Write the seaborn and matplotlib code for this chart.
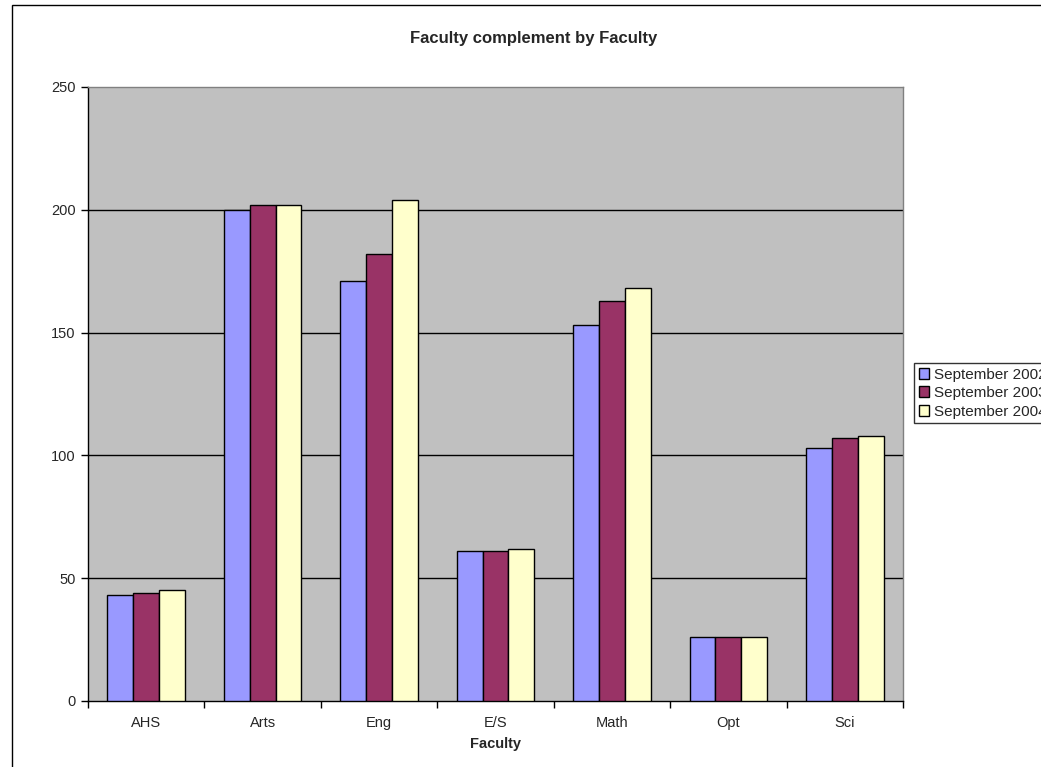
import matplotlib
matplotlib.use("Agg")
import matplotlib.pyplot as plt
import matplotlib.patches as mpatches
import seaborn as sns
import pandas as pd
import numpy as np

categories = ["AHS", "Arts", "Eng", "E/S", "Math", "Opt", "Sci"]
series_names = ["September 2002", "September 2003", "September 2004"]
sep_2002 = [43, 200, 171, 61, 153, 26, 103]
sep_2003 = [44, 202, 182, 61, 163, 26, 107]
sep_2004 = [45, 202, 204, 62, 168, 26, 108]
yticks = [0, 50, 100, 150, 200, 250]
colors = ["#9999FF", "#993366", "#FFFFCC"]

rows = []
for name, vals in zip(series_names, [sep_2002, sep_2003, sep_2004]):
    for c, v in zip(categories, vals):
        rows.append({"Faculty": c, "Series": name, "Value": v})
df = pd.DataFrame(rows)

sns.set_style("white")
plt.rcParams["font.family"] = ["Liberation Sans", "DejaVu Sans"]

W, H = 1041, 767
fig = plt.figure(figsize=(W / 100, H / 100), dpi=100)
ax = fig.add_axes([88 / W, 1 - 701 / H, (903 - 88) / W, (701 - 87) / H])
ax.set_facecolor("#C0C0C0")

sns.barplot(data=df, x="Faculty", y="Value", hue="Series", order=categories,
            hue_order=series_names, palette=colors, width=0.667,
            edgecolor="black", linewidth=1.0, saturation=1, ax=ax,
            legend=False, zorder=3)

ax.set_ylim(0, 250)
ax.set_xlim(-0.5, len(categories) - 0.5)
ax.set_yticks(yticks)
ax.set_yticklabels([str(t) for t in yticks], fontsize=10.5)
ax.tick_params(axis="y", direction="out", length=5, width=1, color="black", pad=4, left=True)
ax.set_xticks(range(len(categories)))
ax.set_xticklabels(categories, fontsize=10.5)
ax.tick_params(axis="x", which="major", length=0, pad=11)
ax.set_xticks(np.arange(-0.5, len(categories), 1.0), minor=True)
ax.tick_params(axis="x", which="minor", direction="out", length=5, width=1, color="black", bottom=True)

for y in yticks[1:-1]:
    ax.axhline(y, color="black", linewidth=1, zorder=1)

ax.set_xlabel("Faculty", fontsize=10.5, fontweight="bold", labelpad=5)
ax.set_ylabel("")

for s in ["left", "bottom"]:
    ax.spines[s].set_color("black")
    ax.spines[s].set_linewidth(1)
for s in ["top", "right"]:
    ax.spines[s].set_color("#808080")
    ax.spines[s].set_linewidth(1)

fig.text(534 / W, 1 - 38 / H, "Faculty complement by Faculty", ha="center", va="center",
         fontsize=12, fontweight="bold")

handles = [mpatches.Patch(facecolor=c, edgecolor="black", linewidth=1, label=n)
           for c, n in zip(colors, series_names)]
leg = fig.legend(handles=handles, loc="upper left", bbox_to_anchor=(914 / W, 1 - 363 / H),
                 fontsize=11, frameon=True, fancybox=False, handlelength=0.7, handleheight=0.7,
                 handletextpad=0.3, labelspacing=0.3, borderpad=0.3, borderaxespad=0)
leg.get_frame().set_edgecolor("black")
leg.get_frame().set_linewidth(1)

border = mpatches.Rectangle((12 / W, -0.1), 1.2, 1.1 - 5 / H, transform=fig.transFigure,
                            fill=False, edgecolor="black", linewidth=1, clip_on=False)
fig.patches.append(border)

fig.savefig("out.png", dpi=100, facecolor="white")
